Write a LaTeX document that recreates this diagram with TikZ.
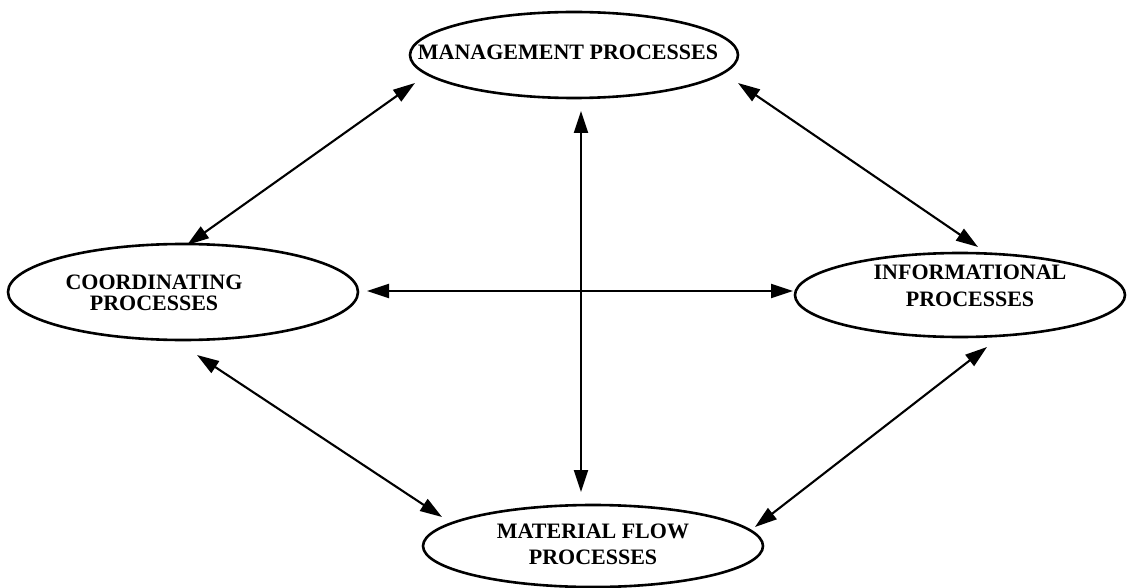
\documentclass[tikz,border=0pt]{standalone}
\usepackage{fontspec}
\setmainfont{Liberation Serif}
\usetikzlibrary{arrows.meta,shapes.geometric}
\begin{document}
\begin{tikzpicture}[x=1pt,y=-1pt,
  proc/.style={draw,ellipse,line width=2.6pt,inner sep=0pt},
  lbl/.style={font=\fontsize{22}{26}\selectfont\bfseries,align=center,inner sep=0pt},
  link/.style={line width=2.1pt,{Triangle[length=22pt,width=14pt]}-{Triangle[length=22pt,width=14pt]}}]
\useasboundingbox (0,0) rectangle (1129,588);

% the four process groups
\node[proc,minimum width=328pt,minimum height=86pt] (mgmt) at (574,55) {};
\node[proc,minimum width=350pt,minimum height=96pt] (coord) at (183,292) {};
\node[proc,minimum width=330pt,minimum height=84pt] (info) at (960,295) {};
\node[proc,minimum width=340pt,minimum height=82pt] (mat) at (593,546) {};

\node[lbl] (mgmtT) at (568,52) {MANAGEMENT PROCESSES};
\node[lbl,font=\fontsize{22}{21}\selectfont\bfseries] (coordT) at (154,293) {COORDINATING\\PROCESSES};
\node[lbl,font=\fontsize{22}{27}\selectfont\bfseries] (infoT) at (970,286) {INFORMATIONAL\\PROCESSES};
\node[lbl] (matT) at (593,544) {MATERIAL FLOW\\PROCESSES};

% arrow end points next to the ellipses
\coordinate (mgmtSW) at (415,83);
\coordinate (coordN) at (187,245);
\coordinate (mgmtSE) at (738,83);
\coordinate (infoN) at (978,247);
\coordinate (mgmtS) at (581,111);
\coordinate (matN) at (581,492);
\coordinate (coordE) at (367,291);
\coordinate (infoW) at (793,291);
\coordinate (coordS) at (197,355);
\coordinate (matNW) at (442,517);
\coordinate (infoS) at (987,347);
\coordinate (matNE) at (755,527);

% two-way interactions
\draw[link] (mgmtSW) -- (coordN);
\draw[link] (mgmtSE) -- (infoN);
\draw[link] (mgmtS) -- (matN);
\draw[link] (coordE) -- (infoW);
\draw[link] (coordS) -- (matNW);
\draw[link] (infoS) -- (matNE);
\end{tikzpicture}
\end{document}
